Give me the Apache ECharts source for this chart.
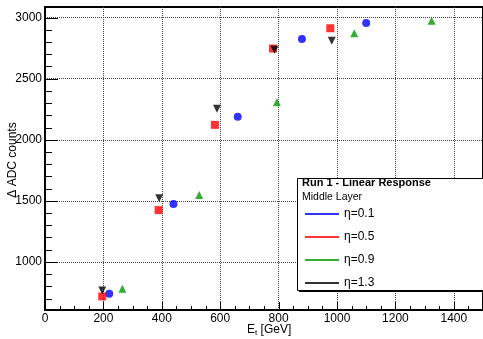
<!DOCTYPE html>
<html>
<head>
<meta charset="utf-8">
<script src="https://cdn.jsdelivr.net/npm/echarts@6/dist/echarts.min.js"></script>
<style>
  html, body { margin: 0; padding: 0; background: #fff; }
  #chart { width: 483px; height: 339px; }
</style>
</head>
<body>
<div id="chart"></div>
<script>
// Beam energy (GeV) and pulse height (ADC counts) per eta bin
const seriesNames = ['η=0.1', 'η=0.5', 'η=0.9', 'η=1.3'];
const etEta01 = [220, 440, 660, 880, 1100];
const adcEta01 = [739, 1473, 2188, 2826, 2957];
const etEta05 = [196, 389, 582, 781, 977];
const adcEta05 = [717, 1424, 2122, 2747, 2913];
const etEta09 = [265, 528, 794, 1059, 1324];
const adcEta09 = [779, 1547, 2308, 2873, 2975];
const etEta13 = [196, 391, 589, 786, 982];
const adcEta13 = [766, 1522, 2253, 2736, 2810];

// Axis ticks
const xMajorTicks = [0, 200, 400, 600, 800, 1000, 1200, 1400];
const xMinorTicks = [50, 100, 150, 250, 300, 350, 450, 500, 550, 650, 700, 750, 850, 900, 950,
                     1050, 1100, 1150, 1250, 1300, 1350, 1450];
const yMajorTicks = [1000, 1500, 2000, 2500, 3000];
const yMinorTicks = [700, 800, 900, 1100, 1200, 1300, 1400, 1600, 1700, 1800, 1900,
                     2100, 2200, 2300, 2400, 2600, 2700, 2800, 2900];

const FONT = 'Liberation Sans, Arial, Helvetica, sans-serif';
const X_MIN = 0, X_MAX = 1500, Y_MIN = 606, Y_MAX = 3087;

function pairs(xs, ys) { return xs.map((x, i) => [x, ys[i]]); }

const gridLine = { show: true, lineStyle: { color: '#444', width: 1, type: [1, 1] } };

// Inward tick marks drawn from the axis scales (ROOT style)
function tickSeries(values, vertical, len) {
  return {
    type: 'custom', silent: true, clip: false, z: 5,
    xAxisIndex: 0, yAxisIndex: 0,
    data: values.map(v => vertical ? [v, Y_MIN] : [X_MIN, v]),
    renderItem: function (params, api) {
      const p = api.coord([api.value(0), api.value(1)]);
      if (vertical) {
        const x = Math.round(p[0]) + 0.5;
        return { type: 'line', shape: { x1: x, y1: p[1], x2: x, y2: p[1] - len },
                 style: { stroke: '#000', lineWidth: 1 } };
      }
      const y = Math.round(p[1]) + 0.5;
      return { type: 'line', shape: { x1: p[0], y1: y, x2: p[0] + len, y2: y },
               style: { stroke: '#000', lineWidth: 1 } };
    }
  };
}

const plainNumber = v => String(v);

const chart = echarts.init(document.getElementById('chart'), null, { renderer: 'canvas' });

chart.setOption({
  backgroundColor: '#fff',
  animation: false,
  grid: {
    left: 45, right: -11, top: 7, bottom: 29,
    show: true, borderColor: '#000', borderWidth: 2, backgroundColor: 'transparent'
  },
  xAxis: {
    type: 'value', min: X_MIN, max: X_MAX, position: 'bottom',
    axisLine: { show: true, onZero: false, lineStyle: { color: '#000', width: 2 } },
    axisTick: { show: false, customValues: xMajorTicks },
    axisLabel: { show: true, customValues: xMajorTicks, formatter: plainNumber, margin: 3,
                 fontSize: 12, color: '#000', fontFamily: FONT },
    splitLine: gridLine
  },
  yAxis: {
    type: 'value', min: Y_MIN, max: Y_MAX, position: 'left',
    axisLine: { show: true, onZero: false, lineStyle: { color: '#000', width: 2 } },
    axisTick: { show: false, customValues: yMajorTicks },
    axisLabel: { show: true, customValues: yMajorTicks, formatter: plainNumber, margin: 3,
                 fontSize: 12, color: '#000', fontFamily: FONT },
    splitLine: gridLine
  },
  legend: {
    orient: 'vertical', left: 305, top: 207, padding: 0, itemGap: 9,
    icon: 'rect', itemWidth: 34, itemHeight: 2, z: 20,
    data: seriesNames,
    textStyle: { fontSize: 12, color: '#000', fontFamily: FONT, lineHeight: 14 }
  },
  graphic: [
    // legend frame with shadow
    { type: 'rect', z: 10, shape: { x: 299, y: 180, width: 200, height: 112 }, style: { fill: '#000' } },
    { type: 'rect', z: 11, shape: { x: 297.5, y: 178.5, width: 200, height: 112 }, style: { fill: '#fff', stroke: '#000', lineWidth: 1 } },
    { type: 'text', z: 12, x: 302, y: 183, style: { text: 'Run 1 - Linear Response', font: 'bold 11px ' + FONT, fill: '#000', verticalAlign: 'middle' } },
    { type: 'text', z: 12, x: 302, y: 197, style: { text: 'Middle Layer', font: '10.5px ' + FONT, fill: '#000', verticalAlign: 'middle' } },
    // axis titles
    { type: 'text', z: 12, x: 13, y: 160, rotation: Math.PI / 2,
      style: { text: 'Δ ADC counts', font: '12px ' + FONT, fill: '#000', align: 'center', verticalAlign: 'middle' } },
    { type: 'text', z: 12, x: 247, y: 330,
      style: {
        text: '{e|E}{s|t}{e| [GeV]}', verticalAlign: 'middle', align: 'left',
        rich: {
          e: { fontSize: 12, fontFamily: FONT, fill: '#000', lineHeight: 14, verticalAlign: 'middle' },
          s: { fontSize: 8, fontFamily: FONT, fill: '#000', lineHeight: 8, verticalAlign: 'bottom' }
        }
      } }
  ],
  series: [
    { name: seriesNames[0], type: 'scatter', symbol: 'circle', symbolSize: 8,
      itemStyle: { color: '#0000ff' }, data: pairs(etEta01, adcEta01) },
    { name: seriesNames[1], type: 'scatter', symbol: 'rect', symbolSize: 8,
      itemStyle: { color: '#ff0000' }, data: pairs(etEta05, adcEta05) },
    { name: seriesNames[2], type: 'scatter', symbol: 'triangle', symbolSize: 8,
      itemStyle: { color: '#009900' }, data: pairs(etEta09, adcEta09) },
    { name: seriesNames[3], type: 'scatter', symbol: 'triangle', symbolRotate: 180, symbolSize: 8,
      itemStyle: { color: '#000' }, data: pairs(etEta13, adcEta13) },
    tickSeries(xMajorTicks, true, 8),
    tickSeries(xMinorTicks, true, 4),
    tickSeries(yMajorTicks, false, 13),
    tickSeries(yMinorTicks, false, 7)
  ]
});
</script>
</body>
</html>
